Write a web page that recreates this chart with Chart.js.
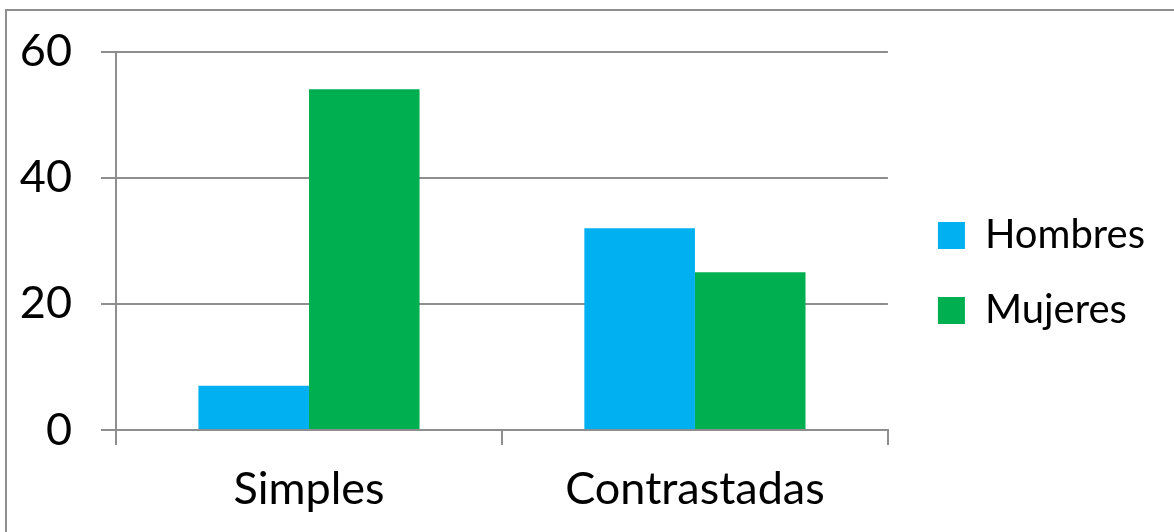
<!DOCTYPE html>
<html lang="es">
<head>
    <meta charset="UTF-8">
    <title>Hombres y Mujeres</title>
    <script src="https://cdn.jsdelivr.net/npm/chart.js"></script>
    <style>
        body { margin: 0; background: #fff; overflow: hidden; }
        #wrap { position: absolute; left: 0; top: 0; width: 1174px; height: 532px; }
        #frame {
            position: absolute; left: 5px; top: 9px; width: 1300px; height: 700px;
            border: 2px solid #8e8e8e; pointer-events: none;
        }
    </style>
</head>
<body>
    <div id="wrap">
        <canvas id="grafico" width="1174" height="532"></canvas>
        <div id="frame"></div>
    </div>

    <script>
        // Datos
        const categorias = ['Simples', 'Contrastadas'];
        const hombres = [7, 32];
        const mujeres = [54, 25];
        const ticksY = [0, 20, 40, 60];

        const fuente = 'Lato, "Open Sans", sans-serif';
        const gris = '#8e8e8e';

        const ctx = document.getElementById('grafico').getContext('2d');
        new Chart(ctx, {
            type: 'bar',
            data: {
                labels: categorias,
                datasets: [
                    { label: 'Hombres', data: hombres, backgroundColor: '#00b0f0' },
                    { label: 'Mujeres', data: mujeres, backgroundColor: '#00b050' }
                ]
            },
            options: {
                responsive: false,
                animation: false,
                layout: { padding: { top: 14, bottom: 0, left: 0, right: 19 } },
                datasets: {
                    bar: { barPercentage: 1, categoryPercentage: 0.573 }
                },
                plugins: {
                    tooltip: { enabled: false },
                    legend: {
                        position: 'right',
                        align: 'center',
                        maxWidth: 400,
                        labels: {
                            boxWidth: 27,
                            boxHeight: 27,
                            padding: 35,
                            color: '#000',
                            font: { family: fuente, size: 40 }
                        }
                    }
                },
                scales: {
                    x: {
                        grid: { drawOnChartArea: false, drawTicks: true, tickLength: 15, color: gris, lineWidth: 2 },
                        border: { color: gris, width: 2 },
                        ticks: { color: '#000', padding: 17, font: { family: fuente, size: 45 } },
                        afterFit: s => { s.height = 102; }
                    },
                    y: {
                        min: 0,
                        max: 60,
                        afterBuildTicks: s => { s.ticks = ticksY.map(v => ({ value: v })); },
                        grid: { color: gris, lineWidth: 2, tickLength: 15 },
                        border: { color: gris, width: 2 },
                        ticks: { color: '#000', padding: 29, font: { family: fuente, size: 45, lineHeight: 1 } },
                        afterFit: s => { s.width = 116; }
                    },
                    // separadores vacíos entre el área del gráfico, el borde superior y la leyenda
                    arriba: {
                        type: 'category',
                        position: 'top',
                        grid: { display: false },
                        border: { display: false },
                        ticks: { display: false },
                        afterFit: s => { s.height = 37; }
                    },
                    hueco: {
                        position: 'right',
                        grid: { display: false },
                        border: { display: false },
                        ticks: { display: false },
                        afterFit: s => { s.width = 15; }
                    }
                }
            }
        });
    </script>
</body>
</html>
